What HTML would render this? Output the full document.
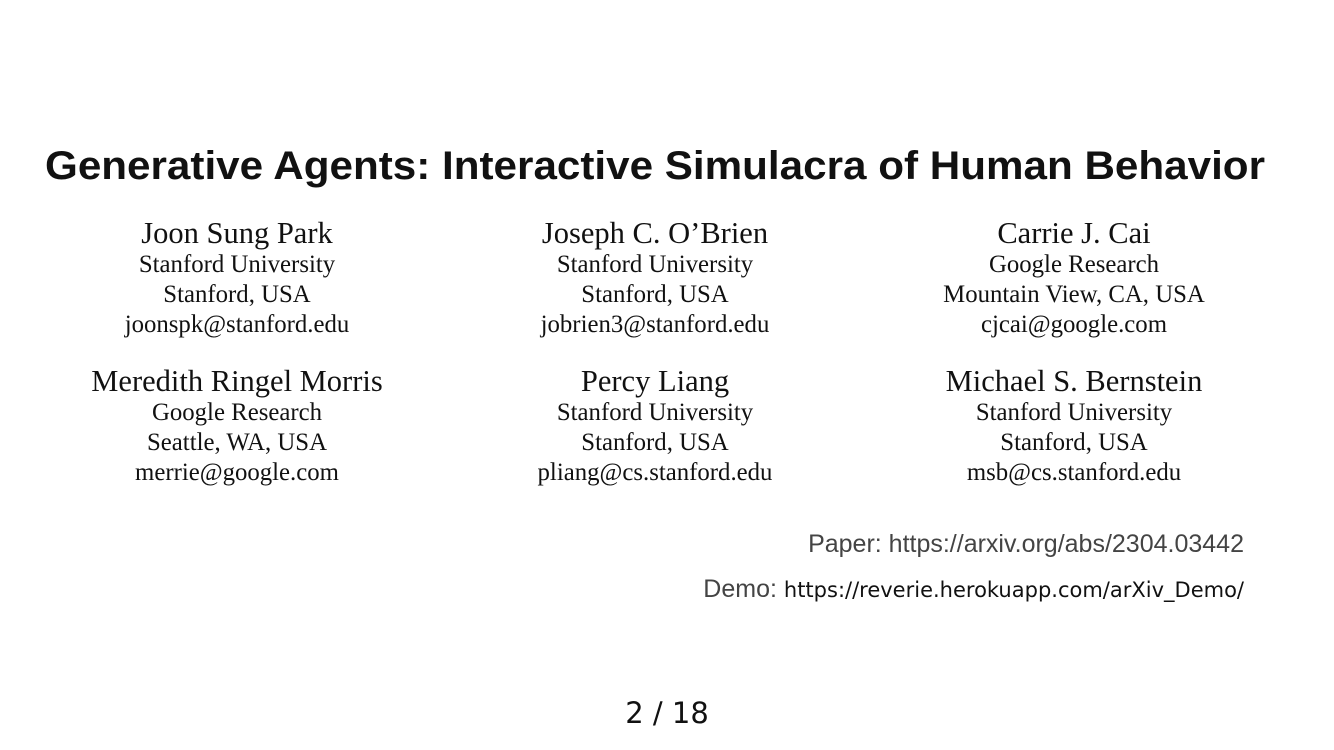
<!DOCTYPE html>
<html><head><meta charset="utf-8"><style>
html,body{margin:0;padding:0;background:#fff;}
body{width:1334px;height:750px;position:relative;overflow:hidden;}
.t{position:absolute;white-space:nowrap;line-height:1;}
#title{left:45px;top:146px;font-family:"Liberation Sans",sans-serif;font-weight:bold;font-size:40px;color:#111;transform-origin:0 0;}
.col{position:absolute;width:420px;text-align:center;font-family:"Liberation Serif",serif;color:#111;}
.nm{font-size:30.5px;height:33px;line-height:33px;}
.af{font-size:24.8px;height:30px;line-height:30px;}
.lnk{font-family:"Liberation Sans",sans-serif;font-size:25px;color:#444;}
</style></head><body>
<div class="t" id="title">Generative Agents: Interactive Simulacra of Human Behavior</div>

<div class="col" style="left:27px;top:217px"><div class="nm">Joon Sung Park</div><div class="af">Stanford University</div><div class="af">Stanford, USA</div><div class="af">joonspk@stanford.edu</div></div>
<div class="col" style="left:445px;top:217px"><div class="nm">Joseph C. O’Brien</div><div class="af">Stanford University</div><div class="af">Stanford, USA</div><div class="af">jobrien3@stanford.edu</div></div>
<div class="col" style="left:864px;top:217px"><div class="nm">Carrie J. Cai</div><div class="af">Google Research</div><div class="af">Mountain View, CA, USA</div><div class="af">cjcai@google.com</div></div>

<div class="col" style="left:27px;top:365px"><div class="nm">Meredith Ringel Morris</div><div class="af">Google Research</div><div class="af">Seattle, WA, USA</div><div class="af">merrie@google.com</div></div>
<div class="col" style="left:445px;top:365px"><div class="nm">Percy Liang</div><div class="af">Stanford University</div><div class="af">Stanford, USA</div><div class="af">pliang@cs.stanford.edu</div></div>
<div class="col" style="left:864px;top:365px"><div class="nm">Michael S. Bernstein</div><div class="af">Stanford University</div><div class="af">Stanford, USA</div><div class="af">msb@cs.stanford.edu</div></div>

<div class="t lnk" style="right:90px;top:532px">Paper: https://arxiv.org/abs/2304.03442</div>
<div class="t lnk" style="right:90px;top:577px">Demo: <span style="font-family:'DejaVu Sans',sans-serif;font-size:21px;color:#111">https://reverie.herokuapp.com/arXiv_Demo/</span></div>

<div class="t" style="left:0;width:1334px;text-align:center;top:699px;font-family:'DejaVu Sans',sans-serif;font-size:29px;color:#111">2 / 18</div>
<script>
var t=document.getElementById('title');
var w=t.getBoundingClientRect().width;
t.style.transform='scaleX('+(1220/w)+')';
</script>
</body></html>
